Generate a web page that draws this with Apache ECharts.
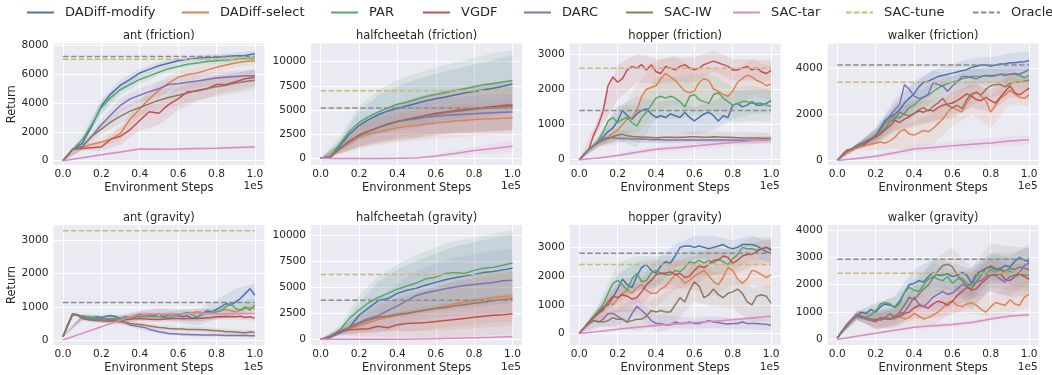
<!DOCTYPE html>
<html>
<head>
<meta charset="utf-8">
<script src="https://cdn.jsdelivr.net/npm/echarts@6.0.0/dist/echarts.min.js"></script>
<style>
  html, body { margin: 0; padding: 0; background: #fff; }
  #chart { width: 1052px; height: 375px; }
</style>
</head>
<body>
<div id="chart"></div>
<script>
// ---- data ----
const methods = ['DADiff-modify', 'DADiff-select', 'PAR', 'VGDF', 'DARC', 'SAC-IW', 'SAC-tar', 'SAC-tune', 'Oracle'];
const panelTitles = ['ant (friction)', 'halfcheetah (friction)', 'hopper (friction)', 'walker (friction)',
                     'ant (gravity)', 'halfcheetah (gravity)', 'hopper (gravity)', 'walker (gravity)'];
const xTicks = [0, 0.2, 0.4, 0.6, 0.8, 1.0];

const steps11 = [0, 0.1, 0.2, 0.3, 0.4, 0.5, 0.6, 0.7, 0.8, 0.9, 1];
const steps21 = [0, 0.05, 0.1, 0.15, 0.2, 0.25, 0.3, 0.35, 0.4, 0.45, 0.5, 0.55, 0.6, 0.65, 0.7, 0.75, 0.8, 0.85, 0.9, 0.95, 1];
const steps41 = [0, 0.025, 0.05, 0.075, 0.1, 0.125, 0.15, 0.175, 0.2, 0.225, 0.25, 0.275, 0.3, 0.325, 0.35, 0.375, 0.4, 0.425, 0.45, 0.475,
                 0.5, 0.525, 0.55, 0.575, 0.6, 0.625, 0.65, 0.675, 0.7, 0.725, 0.75, 0.775, 0.8, 0.825, 0.85, 0.875, 0.9, 0.925, 0.95, 0.975, 1];

// horizontal reference levels, one per panel
const tuneLevel = [7050, 7000, 2600, 3400, 3300, 6200, 2400, 2420];
const oracleLevel = [7250, 5200, 1400, 4150, 1130, 3750, 2800, 2930];

// ant (friction)
const antF_modify = [0, 780, 1200, 2400, 3800, 4650, 5250, 5650, 6100, 6350, 6600, 6780, 6950, 7060, 7130, 7180, 7200, 7250, 7300, 7320, 7440];
const antF_select = [0, 780, 900, 1150, 1300, 1500, 1900, 2900, 3600, 4300, 4900, 5400, 5800, 6000, 6100, 6300, 6500, 6650, 6800, 6900, 6950];
const antF_par = [0, 780, 1450, 2500, 3700, 4400, 4950, 5300, 5650, 5900, 6150, 6400, 6550, 6700, 6800, 6900, 6950, 7000, 7050, 7100, 7100];
const antF_vgdf = [0, 780, 850, 900, 950, 1500, 1700, 2150, 2800, 3400, 3300, 3900, 4300, 4800, 4850, 5000, 5300, 5300, 5500, 5700, 5800];
const antF_darc = [0, 780, 1000, 1700, 2500, 3200, 3850, 4300, 4550, 4800, 5000, 5300, 5350, 5450, 5550, 5650, 5750, 5800, 5850, 5900, 5900];
const antF_iw = [0, 780, 950, 1700, 2200, 2700, 3100, 3450, 3700, 3950, 4200, 4400, 4550, 4700, 4900, 5000, 5150, 5250, 5400, 5500, 5600];
const antF_tar = [0, 200, 410, 610, 820, 800, 810, 840, 870, 910, 950];
const antF_modifySd = [0, 250, 450, 400, 300, 250, 200, 200, 200, 200, 200];
const antF_selectSd = [0, 150, 300, 500, 600, 600, 500, 400, 400, 300, 300];
const antF_parSd = [0, 300, 500, 400, 300, 250, 200, 200, 200, 200, 200];
const antF_vgdfSd = [0, 150, 300, 600, 700, 800, 800, 700, 700, 600, 600];
const antF_darcSd = [0, 200, 400, 500, 500, 500, 500, 500, 400, 400, 400];
const antF_iwSd = [0, 200, 400, 500, 600, 700, 700, 700, 700, 700, 700];
const antF_tarSd = [0, 50, 80, 100, 100, 100, 100, 100, 100, 100, 100];

// halfcheetah (friction)
const hcF_modify = [0, 150, 1300, 2500, 3400, 4000, 4500, 4900, 5150, 5400, 5700, 5950, 6150, 6350, 6550, 6750, 6900, 7100, 7250, 7450, 7700];
const hcF_select = [0, 50, 900, 1600, 2200, 2500, 2750, 2950, 3150, 3300, 3400, 3550, 3650, 3750, 3850, 3900, 4000, 4050, 4100, 4150, 4200];
const hcF_par = [0, 200, 1500, 2800, 3700, 4300, 4800, 5200, 5600, 5800, 6100, 6400, 6600, 6800, 7000, 7200, 7400, 7600, 7750, 7900, 8050];
const hcF_vgdf = [0, 150, 1000, 1800, 2400, 2800, 3200, 3550, 3800, 4050, 4250, 4450, 4650, 4800, 4950, 5050, 5150, 5250, 5350, 5450, 5550];
const hcF_darc = [0, 100, 1000, 1750, 2350, 2800, 3200, 3550, 3800, 3950, 4100, 4250, 4350, 4450, 4500, 4550, 4600, 4650, 4700, 4750, 4800];
const hcF_iw = [0, 150, 1050, 1800, 2350, 2800, 3150, 3500, 3800, 4000, 4200, 4400, 4550, 4700, 4850, 4950, 5050, 5150, 5200, 5300, 5350];
const hcF_tar = [0, -20, -20, -20, -10, 30, 220, 500, 790, 1020, 1250];
const hcF_modifySd = [0, 600, 1500, 2000, 2300, 2500, 2600, 2700, 2800, 2900, 3000];
const hcF_selectSd = [0, 500, 1200, 1400, 1500, 1600, 1600, 1700, 1700, 1700, 1700];
const hcF_parSd = [0, 700, 1700, 2200, 2500, 2700, 2800, 2900, 3000, 3100, 3100];
const hcF_vgdfSd = [0, 500, 1200, 1600, 1900, 2100, 2200, 2300, 2400, 2500, 2600];
const hcF_darcSd = [0, 500, 1100, 1400, 1600, 1700, 1800, 1800, 1900, 1900, 1900];
const hcF_iwSd = [0, 500, 1200, 1600, 1900, 2100, 2200, 2300, 2400, 2500, 2500];
const hcF_tarSd = [0, 30, 30, 30, 30, 50, 150, 300, 400, 500, 600];

// hopper (friction)
const hopF_modify = [0, 150, 300, 400, 500, 650, 800, 900, 1100, 1400, 1250, 1150, 1300, 1400, 1450, 1300, 1200, 1250, 1200, 1300, 1250,
  1200, 1350, 1200, 1100, 1200, 1300, 1350, 1250, 1100, 1250, 1200, 1550, 1600, 1500, 1550, 1650, 1550, 1550, 1600, 1680];
const hopF_select = [0, 150, 300, 400, 500, 600, 650, 750, 850, 1000, 1150, 1200, 1400, 1800, 2000, 2050, 2100, 2300, 2450, 2350, 2250,
  2100, 1950, 1900, 1950, 2200, 2300, 2250, 2000, 1950, 1850, 1800, 1950, 2200, 2300, 2400, 2350, 2250, 2200, 2100, 2150];
const hopF_par = [0, 150, 300, 400, 550, 800, 1100, 1200, 1050, 1150, 1200, 1050, 950, 1200, 1350, 1550, 1750, 1800, 1750, 1800, 1750,
  1650, 1500, 1800, 1850, 1700, 1650, 1600, 1850, 1900, 1750, 1650, 1550, 1600, 1650, 1650, 1600, 1600, 1600, 1550, 1520];
const hopF_vgdf = [0, 150, 300, 700, 1000, 1400, 2100, 2350, 2200, 2300, 2550, 2650, 2600, 2700, 2550, 2700, 2500, 2450, 2650, 2600, 2550,
  2650, 2700, 2600, 2550, 2600, 2700, 2750, 2800, 2750, 2700, 2650, 2550, 2550, 2600, 2650, 2550, 2600, 2500, 2450, 2530];
const hopF_darc = [0, 150, 300, 400, 500, 600, 620, 620, 610, 600, 600, 590, 590, 580, 580, 570, 570, 570, 560, 560, 560,
  560, 560, 560, 560, 560, 560, 560, 560, 560, 560, 560, 555, 555, 550, 550, 550, 550, 550, 560, 580];
const hopF_iw = [0, 150, 300, 400, 480, 550, 600, 650, 700, 720, 680, 660, 650, 640, 640, 630, 620, 630, 640, 635, 630,
  640, 640, 650, 650, 645, 640, 640, 650, 645, 640, 635, 630, 625, 620, 620, 620, 615, 610, 610, 610];
const hopF_tar = [0, 50, 120, 210, 300, 340, 390, 440, 490, 540, 580];
const hopF_modifySd = [0, 150, 400, 500, 450, 450, 400, 400, 400, 350, 350];
const hopF_selectSd = [0, 150, 400, 700, 700, 700, 600, 600, 600, 500, 500];
const hopF_parSd = [0, 150, 500, 600, 600, 600, 600, 550, 500, 500, 450];
const hopF_vgdfSd = [0, 200, 500, 400, 350, 350, 350, 300, 300, 300, 300];
const hopF_darcSd = [0, 100, 100, 100, 100, 100, 100, 100, 100, 100, 100];
const hopF_iwSd = [0, 100, 150, 150, 150, 150, 150, 150, 150, 150, 150];
const hopF_tarSd = [0, 20, 40, 60, 80, 80, 80, 100, 100, 100, 100];

// walker (friction)
const walkF_modify = [0, 200, 400, 450, 550, 600, 750, 900, 1100, 1400, 1750, 1900, 2000, 2200, 2500, 2700, 2900, 3200, 3400, 3450, 3550,
  3650, 3700, 3750, 3800, 3850, 3900, 3950, 4050, 4100, 4150, 4150, 4100, 4150, 4200, 4200, 4250, 4250, 4280, 4300, 4350];
const walkF_select = [0, 200, 350, 450, 550, 600, 650, 700, 750, 800, 750, 850, 1000, 1250, 1350, 1150, 1100, 1200, 1300, 1250, 1400,
  1600, 1800, 2100, 2300, 2200, 2100, 2500, 2800, 3000, 2800, 2600, 2100, 2400, 2700, 2850, 3050, 2900, 2750, 2700, 2850];
const walkF_par = [0, 200, 400, 500, 600, 700, 850, 950, 1050, 1300, 1600, 1800, 1900, 1850, 2050, 2300, 2400, 2600, 2750, 2850, 3000,
  3150, 3250, 3350, 3400, 3450, 3550, 3600, 3650, 3650, 3650, 3700, 3700, 3700, 3750, 3750, 3750, 3750, 3700, 3600, 3700];
const walkF_vgdf = [0, 250, 450, 500, 600, 700, 800, 900, 1000, 1150, 1350, 1500, 1750, 1650, 1800, 1900, 2050, 2150, 2100, 2200, 2150,
  2300, 2400, 2450, 2500, 2600, 2750, 2900, 2800, 2650, 2600, 2750, 2600, 2500, 2750, 3000, 3250, 2950, 2850, 3000, 3150];
const walkF_darc = [0, 200, 400, 500, 650, 750, 850, 950, 1100, 1350, 1700, 1950, 2200, 2450, 3300, 3100, 2800, 2700, 2750, 2900, 3400,
  3300, 3250, 3000, 3250, 3400, 3650, 3650, 3600, 3550, 3650, 3700, 3650, 3700, 3750, 3700, 3750, 3800, 3750, 3850, 3950];
const walkF_iw = [0, 200, 400, 500, 600, 700, 850, 950, 1050, 1200, 1400, 1700, 1800, 2100, 2000, 1950, 2050, 2200, 2300, 2150, 2350,
  2500, 2700, 2400, 2300, 2400, 2250, 2650, 2900, 2950, 2850, 3100, 3250, 3300, 3300, 3200, 3350, 3400, 3400, 3450, 3500];
const walkF_tar = [0, 80, 180, 330, 500, 560, 640, 700, 760, 850, 900];
const walkF_modifySd = [0, 100, 300, 500, 500, 400, 400, 400, 400, 400, 400];
const walkF_selectSd = [0, 100, 300, 500, 600, 700, 800, 800, 700, 600, 500];
const walkF_parSd = [0, 100, 300, 500, 500, 400, 300, 300, 300, 300, 300];
const walkF_vgdfSd = [0, 100, 300, 500, 500, 500, 500, 500, 500, 500, 500];
const walkF_darcSd = [0, 100, 300, 500, 600, 500, 400, 400, 400, 400, 400];
const walkF_iwSd = [0, 100, 300, 500, 600, 600, 500, 500, 500, 400, 400];
const walkF_tarSd = [0, 50, 80, 100, 150, 150, 200, 200, 200, 200, 200];

// ant (gravity)
const antG_modify = [100, 450, 780, 760, 720, 700, 680, 700, 680, 720, 740, 700, 650, 700, 680, 700, 780, 720, 760, 720, 800,
  700, 750, 780, 730, 700, 730, 650, 680, 780, 880, 850, 920, 1000, 1100, 1050, 1150, 1250, 1400, 1550, 1350];
const antG_select = [100, 450, 780, 760, 720, 680, 650, 640, 620, 600, 620, 640, 650, 650, 660, 700, 720, 740, 760, 780, 800,
  780, 760, 800, 780, 760, 800, 820, 850, 820, 800, 830, 850, 880, 920, 880, 850, 900, 950, 980, 950];
const antG_par = [100, 450, 760, 740, 720, 700, 680, 660, 650, 640, 640, 650, 660, 680, 690, 700, 700, 710, 720, 700, 700,
  680, 680, 700, 750, 800, 830, 750, 700, 760, 820, 800, 850, 900, 1000, 1100, 950, 900, 1000, 900, 1060];
const antG_vgdf = [100, 450, 780, 760, 650, 640, 620, 610, 600, 600, 600, 600, 600, 610, 630, 640, 650, 640, 630, 620, 620,
  630, 640, 650, 650, 640, 650, 660, 650, 660, 670, 680, 700, 700, 710, 700, 700, 720, 680, 700, 660];
const antG_darc = [100, 450, 780, 760, 680, 650, 630, 620, 600, 590, 580, 570, 550, 520, 450, 430, 400, 380, 320, 290, 250,
  230, 200, 190, 180, 170, 170, 160, 160, 155, 150, 150, 150, 145, 140, 140, 140, 135, 135, 130, 130];
const antG_iw = [100, 450, 780, 760, 650, 620, 600, 590, 580, 575, 570, 565, 560, 540, 500, 480, 470, 450, 420, 400, 380,
  370, 350, 340, 330, 330, 320, 320, 320, 310, 300, 290, 280, 270, 250, 250, 240, 230, 220, 240, 230];
const antG_tar = [0, 200, 400, 600, 800, 790, 790, 790, 795, 800, 800];
const antG_modifySd = [0, 60, 80, 100, 100, 150, 200, 250, 300, 400, 350];
const antG_selectSd = [0, 60, 80, 100, 150, 150, 100, 100, 100, 150, 150];
const antG_parSd = [0, 60, 80, 100, 100, 100, 150, 150, 200, 200, 200];
const antG_vgdfSd = [0, 60, 80, 80, 80, 80, 80, 80, 80, 80, 80];
const antG_darcSd = [0, 60, 80, 80, 80, 60, 50, 50, 50, 50, 50];
const antG_iwSd = [0, 60, 80, 80, 80, 80, 80, 80, 80, 80, 80];
const antG_tarSd = [0, 10, 10, 10, 10, 10, 10, 10, 10, 10, 10];

// halfcheetah (gravity)
const hcG_modify = [0, 200, 700, 1100, 2300, 3000, 3700, 3900, 4400, 4700, 4900, 5200, 5450, 5700, 5900, 6050, 6200, 6400, 6500, 6650, 6800];
const hcG_select = [0, 200, 800, 1000, 1300, 1600, 1900, 2100, 2300, 2450, 2600, 2800, 3000, 3200, 3400, 3550, 3700, 3850, 4000, 4100, 4150];
const hcG_par = [0, 200, 900, 2000, 2800, 3500, 4000, 4400, 4800, 5100, 5400, 5800, 5950, 6300, 6400, 6300, 6600, 6800, 6900, 7100, 7300];
const hcG_vgdf = [0, 200, 700, 900, 950, 1000, 1250, 1100, 1400, 1500, 1550, 1600, 1700, 1800, 1900, 2000, 2100, 2200, 2300, 2350, 2450];
const hcG_darc = [0, 150, 600, 1100, 1600, 2000, 2250, 2750, 3200, 3700, 4200, 4450, 4650, 4850, 5000, 5150, 5250, 5350, 5450, 5600, 5650];
const hcG_iw = [0, 300, 800, 1100, 1500, 1850, 2100, 2200, 2400, 2500, 2650, 2800, 2950, 3050, 3200, 3300, 3450, 3550, 3700, 3800, 3900];
const hcG_tar = [0, 0, 0, 0, 10, 20, 50, 100, 150, 200, 270];
const hcG_modifySd = [0, 300, 1200, 1800, 2300, 2600, 2800, 3000, 3100, 3200, 3300];
const hcG_selectSd = [0, 300, 800, 1200, 1500, 1800, 2000, 2200, 2300, 2400, 2500];
const hcG_parSd = [0, 400, 1400, 2000, 2400, 2700, 2900, 3000, 3100, 3200, 3200];
const hcG_vgdfSd = [0, 300, 700, 1000, 1200, 1400, 1600, 1700, 1800, 1900, 2000];
const hcG_darcSd = [0, 300, 1000, 1600, 2100, 2400, 2600, 2800, 2900, 3000, 3000];
const hcG_iwSd = [0, 300, 900, 1300, 1600, 1900, 2100, 2300, 2400, 2500, 2600];
const hcG_tarSd = [0, 20, 20, 20, 20, 30, 50, 80, 100, 120, 150];

// hopper (gravity)
const hopG_modify = [0, 200, 400, 600, 750, 900, 1000, 1250, 1550, 1900, 1700, 1600, 2000, 2300, 2400, 2200, 2100, 2350, 2500, 2450, 2700,
  3000, 3050, 3050, 3000, 3050, 3000, 2950, 3000, 3050, 3100, 3000, 2950, 3000, 3100, 3100, 3100, 3050, 2950, 2850, 2800];
const hopG_select = [0, 200, 350, 550, 700, 800, 1100, 1000, 1200, 1400, 1500, 1400, 1600, 1700, 1500, 1400, 1400, 1550, 1650, 1850, 2050,
  1950, 1750, 1850, 2000, 2100, 2200, 2000, 1800, 1700, 1950, 2300, 2200, 1900, 1750, 1900, 2200, 2150, 2050, 1950, 2050];
const hopG_par = [0, 200, 400, 600, 800, 1000, 1400, 1750, 1850, 1700, 1500, 1900, 2100, 1800, 1850, 2100, 2200, 2100, 2050, 2050, 2200,
  2150, 2300, 2500, 2450, 2550, 2450, 2550, 2450, 2600, 2500, 2400, 2600, 2750, 3000, 2950, 2950, 2900, 2950, 3000, 2950];
const hopG_vgdf = [0, 200, 400, 550, 700, 850, 1100, 1300, 1250, 1350, 1300, 1200, 1250, 1450, 1700, 1850, 2050, 2100, 2100, 2150, 2050,
  2100, 1950, 2000, 2200, 2350, 2300, 2400, 2550, 2550, 2700, 2650, 2450, 2550, 2700, 2750, 2750, 2850, 2950, 3000, 2900];
const hopG_darc = [0, 200, 350, 450, 400, 500, 700, 700, 600, 500, 400, 700, 950, 800, 650, 450, 350, 350, 300, 300, 400,
  350, 350, 400, 350, 350, 400, 450, 400, 380, 350, 330, 350, 350, 400, 350, 350, 350, 330, 320, 290];
const hopG_iw = [0, 200, 350, 450, 420, 400, 450, 550, 500, 500, 400, 450, 500, 500, 600, 800, 750, 800, 750, 750, 1000,
  1250, 1100, 1500, 1800, 1650, 1250, 1350, 1550, 1350, 1250, 1400, 1450, 1550, 1400, 1100, 1000, 1300, 1350, 1300, 1050];
const hopG_tar = [0, 70, 150, 220, 280, 330, 380, 430, 480, 540, 600];
const hopG_modifySd = [0, 200, 500, 500, 500, 400, 400, 400, 300, 300, 400];
const hopG_selectSd = [0, 200, 500, 500, 500, 500, 500, 500, 500, 500, 500];
const hopG_parSd = [0, 200, 600, 600, 500, 500, 500, 400, 400, 400, 400];
const hopG_vgdfSd = [0, 200, 500, 500, 500, 500, 500, 500, 400, 400, 400];
const hopG_darcSd = [0, 200, 300, 300, 300, 200, 200, 200, 200, 200, 200];
const hopG_iwSd = [0, 150, 300, 400, 500, 600, 700, 600, 600, 600, 600];
const hopG_tarSd = [0, 20, 30, 40, 50, 50, 50, 50, 50, 50, 50];

// walker (gravity)
const walkG_modify = [50, 300, 550, 700, 850, 1000, 950, 1100, 1000, 1200, 1300, 1250, 1200, 1400, 1700, 2000, 2050, 2150, 2100, 2300, 2450,
  2350, 2350, 2400, 2300, 2350, 2450, 2350, 2050, 2400, 2500, 2600, 2650, 2550, 2600, 2700, 2650, 2850, 3000, 2900, 2850];
const walkG_select = [50, 300, 500, 700, 850, 800, 750, 700, 700, 750, 800, 750, 750, 850, 750, 800, 950, 850, 750, 800, 900,
  1000, 1150, 1350, 1400, 1250, 1200, 1300, 1350, 1250, 1100, 1000, 1200, 1350, 1300, 1250, 1450, 1300, 1250, 1550, 1650];
const walkG_par = [50, 300, 550, 700, 850, 800, 800, 900, 1050, 1300, 1350, 1300, 1150, 1300, 1700, 1900, 1800, 1750, 2000, 2200, 2300,
  2200, 2150, 2300, 2050, 2200, 2250, 2050, 1950, 2300, 2450, 2400, 2550, 2450, 2550, 2400, 2500, 2400, 2400, 2350, 2350];
const walkG_vgdf = [50, 300, 500, 700, 900, 850, 750, 700, 650, 800, 750, 750, 800, 850, 950, 1000, 1150, 1250, 1200, 1150, 1300,
  1400, 1350, 1250, 1400, 1600, 1750, 1900, 1800, 1850, 2050, 2200, 2350, 2350, 2400, 2200, 2150, 2300, 2400, 2300, 2200];
const walkG_darc = [50, 300, 500, 700, 850, 800, 750, 700, 750, 700, 800, 750, 850, 950, 1000, 1250, 1550, 1300, 1200, 1350, 1550,
  1650, 1750, 1650, 1700, 1850, 2000, 1950, 2050, 2100, 2150, 2300, 2450, 2350, 2200, 2100, 2300, 2350, 2450, 2700, 2800];
const walkG_iw = [50, 300, 550, 750, 900, 850, 800, 750, 700, 750, 800, 950, 800, 1000, 1250, 1550, 1450, 1650, 1850, 2000, 2250,
  2500, 2700, 2750, 2650, 2350, 2150, 1950, 1850, 2100, 2350, 2600, 2700, 2600, 2550, 2500, 2600, 2550, 2650, 2600, 2550];
const walkG_tar = [0, 120, 230, 340, 450, 500, 550, 620, 750, 860, 900];
const walkG_modifySd = [0, 150, 300, 400, 500, 500, 500, 500, 500, 500, 500];
const walkG_selectSd = [0, 150, 300, 300, 400, 400, 400, 400, 400, 500, 500];
const walkG_parSd = [0, 150, 300, 400, 400, 500, 500, 500, 500, 500, 500];
const walkG_vgdfSd = [0, 150, 300, 300, 400, 500, 500, 600, 600, 600, 600];
const walkG_darcSd = [0, 150, 300, 300, 400, 500, 500, 600, 700, 700, 700];
const walkG_iwSd = [0, 150, 300, 400, 500, 700, 700, 800, 800, 800, 800];
const walkG_tarSd = [0, 30, 50, 60, 80, 80, 80, 80, 80, 80, 80];

// ---- panels: data + y axis range (min, max, minor step, labelled step) ----
const panels = [
  { xs: steps21, lines: [antF_modify, antF_select, antF_par, antF_vgdf, antF_darc, antF_iw, antF_tar],
    sds: [antF_modifySd, antF_selectSd, antF_parSd, antF_vgdfSd, antF_darcSd, antF_iwSd, antF_tarSd], y: [-300, 8150, 100, 2000] },
  { xs: steps21, lines: [hcF_modify, hcF_select, hcF_par, hcF_vgdf, hcF_darc, hcF_iw, hcF_tar],
    sds: [hcF_modifySd, hcF_selectSd, hcF_parSd, hcF_vgdfSd, hcF_darcSd, hcF_iwSd, hcF_tarSd], y: [-700, 11880, 100, 2500] },
  { xs: steps41, lines: [hopF_modify, hopF_select, hopF_par, hopF_vgdf, hopF_darc, hopF_iw, hopF_tar],
    sds: [hopF_modifySd, hopF_selectSd, hopF_parSd, hopF_vgdfSd, hopF_darcSd, hopF_iwSd, hopF_tarSd], y: [-150, 3300, 50, 1000] },
  { xs: steps41, lines: [walkF_modify, walkF_select, walkF_par, walkF_vgdf, walkF_darc, walkF_iw, walkF_tar],
    sds: [walkF_modifySd, walkF_selectSd, walkF_parSd, walkF_vgdfSd, walkF_darcSd, walkF_iwSd, walkF_tarSd], y: [-200, 5090, 100, 2000] },
  { xs: steps41, lines: [antG_modify, antG_select, antG_par, antG_vgdf, antG_darc, antG_iw, antG_tar],
    sds: [antG_modifySd, antG_selectSd, antG_parSd, antG_vgdfSd, antG_darcSd, antG_iwSd, antG_tarSd], y: [-150, 3470, 50, 1000] },
  { xs: steps21, lines: [hcG_modify, hcG_select, hcG_par, hcG_vgdf, hcG_darc, hcG_iw, hcG_tar],
    sds: [hcG_modifySd, hcG_selectSd, hcG_parSd, hcG_vgdfSd, hcG_darcSd, hcG_iwSd, hcG_tarSd], y: [-550, 10950, 50, 2500] },
  { xs: steps41, lines: [hopG_modify, hopG_select, hopG_par, hopG_vgdf, hopG_darc, hopG_iw, hopG_tar],
    sds: [hopG_modifySd, hopG_selectSd, hopG_parSd, hopG_vgdfSd, hopG_darcSd, hopG_iwSd, hopG_tarSd], y: [-400, 3780, 100, 1000] },
  { xs: steps41, lines: [walkG_modify, walkG_select, walkG_par, walkG_vgdf, walkG_darc, walkG_iw, walkG_tar],
    sds: [walkG_modifySd, walkG_selectSd, walkG_parSd, walkG_vgdfSd, walkG_darcSd, walkG_iwSd, walkG_tarSd], y: [-200, 4180, 100, 1000] }
];

// ---- style / layout ----
const FONT = 'DejaVu Sans';
const TEXT = '#262626';
const palette = ['#4C72B0', '#DD8452', '#55A868', '#C44E52', '#8172B3', '#937860', '#DA8BC3', '#CCB974', '#8C8C8C'];
const colLeft = [53.4, 311.1, 569.7, 827.7];
const rowTop = [43.5, 225];
const plotW = 211, plotH = 121.5;
const legendLeft = [26, 181, 330, 422, 523, 625, 732, 845, 972];

// white grid lines only on labelled ticks: colour list cycles over minor ticks
function gridColors(min, step, major) {
  const n = Math.round(major / step);
  const off = ((Math.round(-min / step) % n) + n) % n;
  const c = [];
  for (let i = 0; i < n; i++) c.push(i === off ? '#ffffff' : 'rgba(255,255,255,0)');
  return c;
}

const option = {
  animation: false,
  backgroundColor: '#ffffff',
  textStyle: { fontFamily: FONT },
  grid: [], xAxis: [], yAxis: [], series: [], legend: [], graphic: []
};

panels.forEach((p, i) => {
  const col = i % 4, row = Math.floor(i / 4);
  const left = colLeft[col], top = rowTop[row];
  const [yMin, yMax, yStep, yMajor] = p.y;

  option.grid.push({ left: left, top: top, width: plotW, height: plotH, show: true,
    backgroundColor: '#EAEAF2', borderWidth: 0 });

  option.xAxis.push({
    type: 'value', gridIndex: i, min: -0.05, max: 1.05, interval: 0.05,
    axisLine: { show: false }, axisTick: { show: false },
    splitLine: { show: true, lineStyle: { color: gridColors(-0.05, 0.05, 0.2), width: 1 } },
    axisLabel: {
      color: TEXT, fontSize: 10.6, fontFamily: FONT, margin: 4,
      formatter: v => {
        const hit = xTicks.find(t => Math.abs(t - v) < 1e-6);
        return hit === undefined ? '' : hit.toFixed(1);
      }
    },
    name: 'Environment Steps', nameLocation: 'middle', nameGap: 17,
    nameTextStyle: { color: TEXT, fontSize: 11.5, fontFamily: FONT }
  });

  option.yAxis.push({
    type: 'value', gridIndex: i, min: yMin, max: yMax, interval: yStep,
    axisLine: { show: false }, axisTick: { show: false },
    splitLine: { show: true, showMaxLine: false, lineStyle: { color: gridColors(yMin, yStep, yMajor), width: 1 } },
    axisLabel: {
      color: TEXT, fontSize: 10.6, fontFamily: FONT, margin: 5,
      formatter: v => {
        const q = v / yMajor;
        return (v >= -1e-6 && Math.abs(q - Math.round(q)) < 1e-6) ? String(Math.round(v)) : '';
      }
    },
    name: col === 0 ? 'Return' : '', nameLocation: 'middle', nameGap: 33,
    nameTextStyle: { color: TEXT, fontSize: 11.5, fontFamily: FONT }
  });

  // shaded spread bands (mean +/- spread), drawn as polygons through the axes
  p.lines.forEach((ys, k) => {
    const xs = k === 6 ? steps11 : p.xs;
    const sd = p.sds[k];
    const stride = (xs.length - 1) / (sd.length - 1);
    const upper = sd.map((s, j) => [xs[j * stride], ys[j * stride] + s]);
    const lower = sd.map((s, j) => [xs[j * stride], ys[j * stride] - s]);
    option.series.push({
      type: 'custom', xAxisIndex: i, yAxisIndex: i, z: 1, silent: true,
      data: [upper[0]],
      renderItem: (params, api) => {
        const pts = upper.concat(lower.slice().reverse()).map(pt => api.coord(pt));
        return { type: 'polygon', shape: { points: pts }, style: { fill: palette[k], opacity: 0.12 } };
      }
    });
  });

  // mean curves
  p.lines.forEach((ys, k) => {
    const xs = k === 6 ? steps11 : p.xs;
    option.series.push({
      name: methods[k], type: 'line', xAxisIndex: i, yAxisIndex: i, z: 2,
      symbol: 'none', data: ys.map((y, j) => [xs[j], y]),
      lineStyle: { color: palette[k], width: 1.5 }, itemStyle: { color: palette[k] }
    });
  });

  // SAC-tune and Oracle reference levels
  [tuneLevel[i], oracleLevel[i]].forEach((v, m) => {
    const k = 7 + m;
    option.series.push({
      name: methods[k], type: 'line', xAxisIndex: i, yAxisIndex: i, z: 3,
      symbol: 'none', data: [[0, v], [1, v]],
      lineStyle: { color: palette[k], width: 1.5, type: [5.5, 2.4] }, itemStyle: { color: palette[k] }
    });
  });

  option.graphic.push({ type: 'text', x: left + plotW / 2, y: top - 7, silent: true,
    style: { text: panelTitles[i], font: '11.5px "DejaVu Sans"', fill: TEXT, align: 'center', verticalAlign: 'middle' } });
  option.graphic.push({ type: 'text', x: left + plotW - 1, y: top + plotH + 21, silent: true,
    style: { text: '1e5', font: '10.6px "DejaVu Sans"', fill: TEXT, align: 'right', verticalAlign: 'middle' } });
});

methods.forEach((m, k) => {
  option.legend.push({
    data: [m], left: legendLeft[k], top: 6, padding: 0, itemWidth: 27, itemHeight: 10, selectedMode: false,
    itemStyle: { opacity: 0 },
    textStyle: { fontSize: 13, color: TEXT, fontFamily: FONT, padding: [0, 0, 0, 6] }
  });
});

const chart = echarts.init(document.getElementById('chart'));
chart.setOption(option);
</script>
</body>
</html>
